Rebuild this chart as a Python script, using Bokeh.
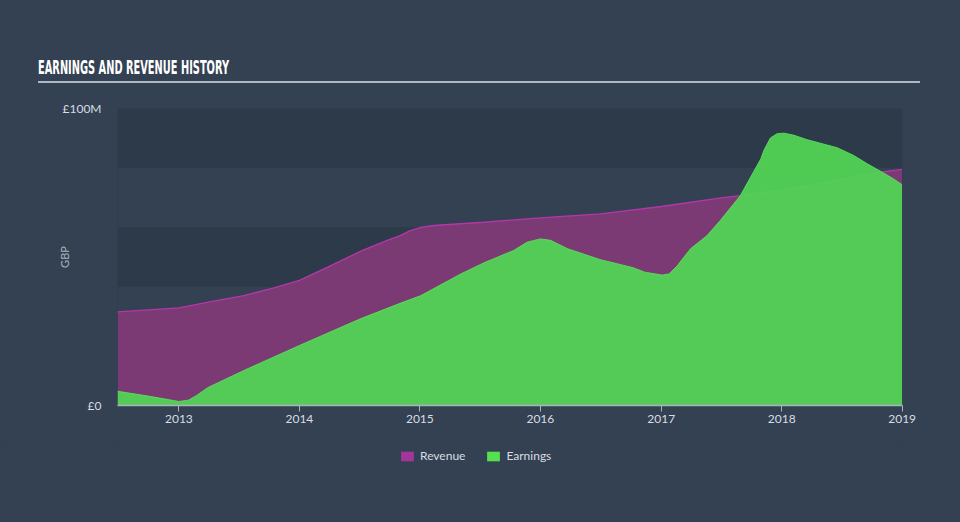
import pandas as pd
from bokeh.plotting import figure
from bokeh.layouts import column
from bokeh.models import (FixedTicker, Range1d, Legend, LegendItem, Div,
                          ColumnDataSource)
from bokeh.embed import file_html
from bokeh.resources import INLINE

# ---- data (values in £ millions) ----
revenue_dates = ["2012-06-29", "2013-01-01", "2013-04-08", "2013-07-17", "2013-10-16",
                 "2014-01-01", "2014-03-28", "2014-07-06", "2014-09-24", "2014-11-02",
                 "2014-12-03", "2015-01-04", "2015-02-12", "2015-07-13", "2016-01-01",
                 "2016-07-01", "2017-01-01", "2017-07-02", "2018-01-01", "2018-05-30",
                 "2018-10-27", "2019-01-01"]
revenue_values = [31.5, 32.9, 35.0, 37.0, 39.6,
                  42.1, 46.6, 52.0, 55.6, 57.2,
                  58.9, 60.0, 60.6, 61.7, 63.2,
                  64.5, 67.0, 69.9, 72.4, 75.4,
                  78.6, 79.5]

earnings_dates = ["2012-06-29", "2012-10-09", "2013-01-01", "2013-01-30", "2013-02-24",
                  "2013-03-29", "2013-07-17", "2014-01-01", "2014-07-05", "2014-11-02",
                  "2015-01-04", "2015-05-05", "2015-07-13", "2015-10-12",
                  "2015-11-22", "2016-01-01", "2016-02-01", "2016-03-23", "2016-07-01",
                  "2016-10-08", "2016-11-12", "2017-01-04", "2017-01-25", "2017-02-19",
                  "2017-03-31", "2017-05-20", "2017-06-29", "2017-08-29", "2017-10-30",
                  "2017-11-08", "2017-11-28", "2017-12-18", "2018-01-08", "2018-02-07",
                  "2018-03-19", "2018-04-28", "2018-06-18", "2018-08-07", "2018-09-17",
                  "2018-10-27", "2018-12-06", "2019-01-01"]
earnings_values = [4.8, 3.0, 1.35, 1.8, 3.4,
                   6.0, 11.8, 20.2, 29.2, 34.4,
                   37.0, 44.3, 48.0, 52.2,
                   55.0, 56.1, 55.6, 52.8, 49.1,
                   46.4, 44.9, 43.9, 44.3, 47.1,
                   52.8, 57.2, 62.3, 70.7, 83.1,
                   85.9, 90.1, 91.5, 91.7, 91.0,
                   89.5, 88.3, 86.8, 84.2, 81.4,
                   78.9, 76.3, 74.3]

year_ticks = ["2013", "2014", "2015", "2016", "2017", "2018", "2019"]
y_ticks = [0, 100]
y_tick_labels = ["£0", "£100M"]
band_ticks = [0, 20, 40, 60, 80, 100]

title_text = "EARNINGS AND REVENUE HISTORY"
series_names = ["Revenue", "Earnings"]

# ---- styling ----
PAGE_BG = "#334152"
DARK_BAND = "#2d3a4a"
REV_FILL = "#7b3a73"
REV_LINE = "#b238aa"
REV_SWATCH = "#a3369b"
EARN_FILL = "#52d655"
EARN_LINE = "#5be05c"
EARN_SWATCH = "#55e050"
TEXT_COL = "#d8dde3"
FONT = "Lato"
HEADER_H = 95
MAIN_H = 345
LEGEND_H = 522 - HEADER_H - MAIN_H

header = Div(
    text=(f'<div style="position:absolute;left:38px;top:0px;width:882px;height:83px;'
          f'box-sizing:border-box;border-bottom:2px solid #b0b7c0;">'
          f'<span style="position:absolute;left:0px;top:57px;white-space:nowrap;'
          f'transform:scaleX(0.575);transform-origin:0 0;'
          f'font-family:\'DejaVu Sans Condensed\',\'DejaVu Sans\',sans-serif;'
          f'font-weight:bold;font-size:19px;line-height:20px;color:#ffffff;">'
          f'{title_text}</span></div>'),
    width=960, height=HEADER_H, margin=0,
    styles={"background-color": PAGE_BG, "position": "relative"})

rev_src = ColumnDataSource(dict(x=pd.to_datetime(revenue_dates), y=revenue_values,
                                y0=[0] * len(revenue_values)))
earn_src = ColumnDataSource(dict(x=pd.to_datetime(earnings_dates), y=earnings_values,
                                 y0=[0] * len(earnings_values)))

x_start = pd.to_datetime(revenue_dates[0])
x_end = pd.to_datetime(revenue_dates[-1]) + pd.Timedelta(days=1)

p = figure(width=960, height=MAIN_H, x_axis_type="datetime",
           output_backend="svg", toolbar_location=None,
           x_range=Range1d(x_start, x_end), y_range=Range1d(0, 100),
           min_border_left=117, min_border_right=58,
           min_border_top=108 - HEADER_H, min_border_bottom=MAIN_H - 297 - (108 - HEADER_H),
           outline_line_color=None, margin=0)

p.background_fill_color = DARK_BAND
p.border_fill_color = PAGE_BG

# grid bands
p.xgrid.visible = False
p.ygrid.ticker = FixedTicker(ticks=band_ticks)
p.ygrid.grid_line_color = None
p.ygrid.band_fill_color = PAGE_BG
p.ygrid.band_fill_alpha = 1.0

# areas
p.varea(x="x", y1="y0", y2="y", source=rev_src, fill_color=REV_FILL, fill_alpha=1.0)
p.line(x="x", y="y", source=rev_src, line_color=REV_LINE, line_width=1.3)
p.varea(x="x", y1="y0", y2="y", source=earn_src, fill_color=EARN_FILL, fill_alpha=0.93)
p.line(x="x", y="y", source=earn_src, line_color=EARN_LINE, line_width=1, line_alpha=0.9)

# x axis
year_ms = [pd.Timestamp(f"{y}-01-01").value / 1e6 for y in year_ticks]
p.xaxis.ticker = FixedTicker(ticks=year_ms)
p.xaxis.major_label_overrides = {t: lab for t, lab in zip(year_ms, year_ticks)}
p.xaxis.axis_line_color = "#aab3bf"
p.xaxis.axis_line_width = 1.5
p.xaxis.major_tick_line_color = "#aab3bf"
p.xaxis.major_tick_in = 0
p.xaxis.major_tick_out = 6
p.xaxis.minor_tick_line_color = None
p.xaxis.major_label_text_color = TEXT_COL
p.xaxis.major_label_text_font = FONT
p.xaxis.major_label_text_font_size = "12px"
p.xaxis.major_label_standoff = 3

# y axis
p.yaxis.ticker = FixedTicker(ticks=y_ticks)
p.yaxis.major_label_overrides = {t: lab for t, lab in zip(y_ticks, y_tick_labels)}
p.yaxis.axis_line_color = None
p.yaxis.major_tick_line_color = None
p.yaxis.minor_tick_line_color = None
p.yaxis.major_label_text_color = TEXT_COL
p.yaxis.major_label_text_font = FONT
p.yaxis.major_label_text_font_size = "12px"
p.yaxis.major_label_standoff = 10
p.yaxis.axis_label = "GBP"
p.yaxis.axis_label_text_color = "#aab3bf"
p.yaxis.axis_label_text_font = FONT
p.yaxis.axis_label_text_font_size = "11px"
p.yaxis.axis_label_text_font_style = "normal"
p.yaxis.axis_label_standoff = -11

# legend strip below the chart (its frame aligns with the main frame)
lg = figure(width=960, height=LEGEND_H, output_backend="svg", toolbar_location=None,
            x_range=Range1d(0, 1), y_range=Range1d(0, 1),
            x_axis_location=None, y_axis_location=None,
            min_border=0, outline_line_color=None, margin=0)
lg.grid.visible = False
lg.background_fill_color = PAGE_BG
lg.border_fill_color = PAGE_BG
nan = float("nan")
swatch_src = ColumnDataSource(dict(l=[nan], r=[nan], b=[nan], t=[nan]))
r_leg = lg.quad(left="l", right="r", bottom="b", top="t", source=swatch_src,
                fill_color=REV_SWATCH, line_color=None)
e_leg = lg.quad(left="l", right="r", bottom="b", top="t", source=swatch_src,
                fill_color=EARN_SWATCH, line_color=None)
legend = Legend(items=[LegendItem(label=series_names[0], renderers=[r_leg]),
                       LegendItem(label=series_names[1], renderers=[e_leg])],
                orientation="horizontal", location=(282, LEGEND_H - 23),
                background_fill_alpha=0, border_line_color=None,
                padding=0, margin=0, spacing=20,
                glyph_width=16, glyph_height=12, label_standoff=5,
                label_text_color=TEXT_COL, label_text_font=FONT,
                label_text_font_size="12px", label_height=12)
lg.add_layout(legend, "center")

layout = column(header, p, lg, spacing=0, margin=0,
                styles={"background-color": PAGE_BG})

open("out.html", "w").write(file_html(layout, INLINE))
